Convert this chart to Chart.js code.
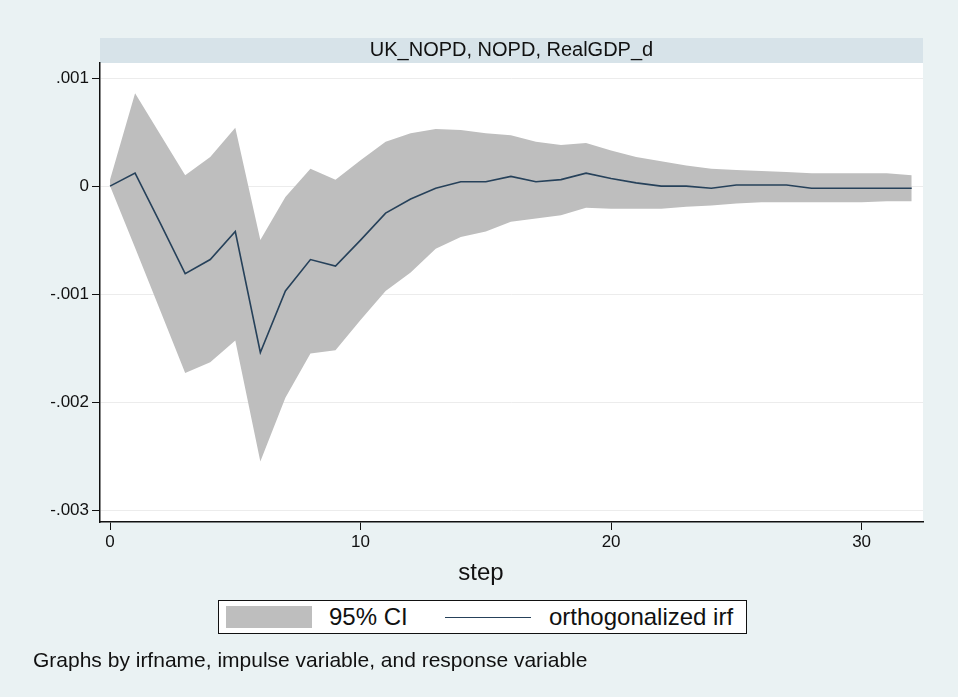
<!DOCTYPE html>
<html>
<head>
<meta charset="utf-8">
<script src="https://cdn.jsdelivr.net/npm/chart.js@4/dist/chart.umd.min.js"></script>
<style>
  html, body { margin: 0; padding: 0; background: #eaf2f3; }
  #wrap { position: relative; width: 958px; height: 697px; overflow: hidden; }
  #c { position: absolute; left: 0; top: 0; }
  .xtitle {
    position: absolute; left: 0; width: 962px; top: 558px; text-align: center; line-height: 28px;
    font-family: "Liberation Sans", Arial, sans-serif; font-size: 24px; color: #111;
  }
  .legend {
    position: absolute; left: 218px; top: 600px; width: 529px; height: 34px;
    background: #fff; border: 1.5px solid #111; box-sizing: border-box;
    font-family: "Liberation Sans", Arial, sans-serif; font-size: 24px; color: #111;
  }
  .legend .sw { position: absolute; left: 7px; top: 5px; width: 86px; height: 22px; background: #bebebe; }
  .legend .t1 { position: absolute; left: 110px; top: 2px; line-height: 28px; white-space: nowrap; }
  .legend .ln { position: absolute; left: 226px; top: 16px; width: 86px; height: 0; border-top: 1.6px solid #26415a; }
  .legend .t2 { position: absolute; left: 330px; top: 2px; line-height: 28px; white-space: nowrap; }
  .note {
    position: absolute; left: 33px; top: 647px; white-space: nowrap; line-height: 26px;
    font-family: "Liberation Sans", Arial, sans-serif; font-size: 21px; color: #111;
  }
</style>
</head>
<body>
<div id="wrap">
  <canvas id="c" width="958" height="697"></canvas>
  <div class="xtitle">step</div>
  <div class="legend">
    <div class="sw"></div><div class="t1">95% CI</div>
    <div class="ln"></div><div class="t2">orthogonalized irf</div>
  </div>
  <div class="note">Graphs by irfname, impulse variable, and response variable</div>
</div>
<script>
// Impulse-response steps and estimates
const steps = [0,1,2,3,4,5,6,7,8,9,10,11,12,13,14,15,16,17,18,19,20,21,22,23,24,25,26,27,28,29,30,31,32];
const irf = [0, 0.00012, -0.00034, -0.00081, -0.00068, -0.00042, -0.00154, -0.00097, -0.00068, -0.00074,
  -0.00050, -0.00025, -0.00012, -0.00002, 0.00004, 0.00004, 0.00009, 0.00004, 0.00006, 0.00012,
  0.00007, 0.00003, 0.00000, 0.00000, -0.00002, 0.00001, 0.00001, 0.00001, -0.00002, -0.00002,
  -0.00002, -0.00002, -0.00002];
const ciUpper = [0.00006, 0.00086, 0.00048, 0.00010, 0.00027, 0.00054, -0.00050, -0.00010, 0.00016, 0.00006,
  0.00024, 0.00041, 0.00049, 0.00053, 0.00052, 0.00049, 0.00047, 0.00041, 0.00038, 0.00040,
  0.00033, 0.00027, 0.00023, 0.00019, 0.00016, 0.00015, 0.00014, 0.00013, 0.00012, 0.00012,
  0.00012, 0.00012, 0.00010];
const ciLower = [0, -0.00057, -0.00115, -0.00173, -0.00163, -0.00143, -0.00255, -0.00196, -0.00155, -0.00152,
  -0.00124, -0.00097, -0.00080, -0.00058, -0.00047, -0.00042, -0.00033, -0.00030, -0.00027, -0.00020,
  -0.00021, -0.00021, -0.00021, -0.00019, -0.00018, -0.00016, -0.00015, -0.00015, -0.00015, -0.00015,
  -0.00015, -0.00014, -0.00014];
const xTicks = [0, 10, 20, 30];
const yTicks = [-0.003, -0.002, -0.001, 0, 0.001];
const yTickLabels = ['-.003', '-.002', '-.001', '0', '.001'];
const panelTitle = 'UK_NOPD, NOPD, RealGDP_d';

const FONT = '"Liberation Sans", Arial, sans-serif';
const INK = '#111';
const pts = arr => steps.map((s, i) => ({ x: s, y: arr[i] }));

// Panel strip behind the title and white plot region
const panelBackground = {
  id: 'panelBackground',
  beforeDraw(chart) {
    const { ctx, chartArea: a } = chart;
    ctx.save();
    ctx.fillStyle = '#d7e3e9';
    ctx.fillRect(a.left, 38, a.right - a.left, a.top - 38);
    ctx.fillStyle = '#ffffff';
    ctx.fillRect(a.left, a.top, a.right - a.left, a.bottom - a.top);
    ctx.restore();
  }
};

new Chart(document.getElementById('c'), {
  type: 'line',
  data: {
    datasets: [
      { label: '95% CI', data: pts(ciUpper), fill: '+1', backgroundColor: '#bebebe',
        borderWidth: 0, pointRadius: 0, order: 2 },
      { label: 'ci lower', data: pts(ciLower), fill: false, borderWidth: 0, pointRadius: 0, order: 3 },
      { label: 'orthogonalized irf', data: pts(irf), fill: false, borderColor: '#26415a',
        borderWidth: 1.6, pointRadius: 0, tension: 0, order: 1 }
    ]
  },
  options: {
    responsive: false,
    animation: false,
    events: [],
    layout: { padding: { top: 38, left: 0, right: 35, bottom: 110 } },
    plugins: {
      legend: { display: false },
      tooltip: { enabled: false },
      title: {
        display: true, text: panelTitle, fullSize: false,
        color: INK, font: { family: FONT, size: 20, weight: 'normal', lineHeight: 25 / 20 },
        padding: 0
      }
    },
    scales: {
      x: {
        type: 'linear', min: -0.4, max: 32.45,
        afterBuildTicks: s => { s.ticks = xTicks.map(v => ({ value: v })); },
        afterFit: s => { s.height = 65; },
        grid: { drawOnChartArea: false, tickLength: 8, tickColor: INK, tickWidth: 1 },
        border: { color: INK, width: 1.5 },
        ticks: { color: INK, font: { family: FONT, size: 17 }, padding: 2, maxRotation: 0 }
      },
      y: {
        type: 'linear', min: -0.00311, max: 0.00114,
        afterBuildTicks: s => { s.ticks = yTicks.map(v => ({ value: v })); },
        afterFit: s => { s.width = 100; },
        grid: { color: '#ececec', lineWidth: 1, tickLength: 8, tickColor: INK, tickWidth: 1 },
        border: { color: INK, width: 1.5 },
        ticks: { color: INK, font: { family: FONT, size: 17 }, padding: 3,
                 callback: v => yTickLabels[yTicks.indexOf(v)] }
      }
    }
  },
  plugins: [panelBackground]
});
</script>
</body>
</html>
